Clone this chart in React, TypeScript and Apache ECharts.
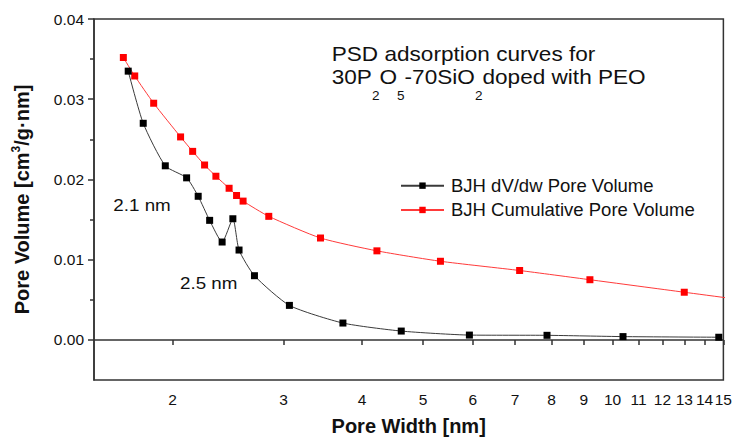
import React, { useEffect, useRef } from "react";
import * as echarts from "echarts";

const FONT = "'Liberation Sans', Arial, sans-serif";

// Pore width (nm) and values
const dvdwWidth = [1.70, 1.796, 1.947, 2.105, 2.196, 2.29, 2.397, 2.493, 2.55, 2.698, 3.066, 3.729, 4.616, 5.923, 7.868, 10.39, 14.75];
const dvdwVolume = [0.0335, 0.0270, 0.0217, 0.0202, 0.0179, 0.0149, 0.0122, 0.0151, 0.0112, 0.0080, 0.0043, 0.0021, 0.0011, 0.0006, 0.00057, 0.00041, 0.00033];

const cumWidth = [1.67, 1.741, 1.866, 2.059, 2.152, 2.248, 2.343, 2.459, 2.527, 2.588, 2.843, 3.435, 4.223, 5.328, 7.118, 9.205, 13.0, 18.3];
const cumVolume = [0.0352, 0.0329, 0.0295, 0.0253, 0.0235, 0.0218, 0.0204, 0.0189, 0.0180, 0.0173, 0.0154, 0.0127, 0.0111, 0.0098, 0.00865, 0.0075, 0.00594, 0.0044];

const xTicks = [2, 3, 4, 5, 6, 7, 8, 9, 10, 11, 12, 13, 14, 15];
const yTicks = [0, 0.01, 0.02, 0.03, 0.04];
const yMinorTicks = [0.005, 0.015, 0.025, 0.035];

const seriesNames = ["BJH dV/dw Pore Volume", "BJH Cumulative Pore Volume"];

export default function App() {
  const ref = useRef<HTMLDivElement>(null);
  useEffect(() => {
    if (!ref.current) return;
    const chart = echarts.init(ref.current, null, { renderer: "svg" });
    const axisColor = "#333";
    chart.setOption({
      animation: false,
      backgroundColor: "#fff",
      textStyle: { fontFamily: FONT },
      grid: {
        left: 94,
        top: 19,
        right: 9.5,
        bottom: 57,
        show: true,
        borderColor: axisColor,
        borderWidth: 1.5,
        containLabel: false,
      },
      legend: {
        orient: "vertical",
        left: 400,
        top: 173.5,
        padding: 0,
        itemGap: 0,
        itemWidth: 43,
        itemHeight: 8,
        textStyle: { fontSize: 18.5, color: "#111", fontFamily: FONT, lineHeight: 24.3, padding: [0, 0, 0, 2] },
        data: seriesNames,
      },
      xAxis: {
        type: "log",
        logBase: 10,
        min: 1.5,
        max: 15,
        name: "Pore Width [nm]",
        nameLocation: "middle",
        nameGap: 36,
        nameTextStyle: { fontSize: 20, fontWeight: "bold", color: "#111", fontFamily: FONT },
        axisLine: { show: true, lineStyle: { color: axisColor, width: 1.5 } },
        axisTick: { show: true, inside: false, length: 5, customValues: xTicks, lineStyle: { color: axisColor, width: 1.5 } },
        axisLabel: {
          customValues: xTicks,
          margin: 11,
          fontSize: 15.5,
          color: "#111",
          fontFamily: FONT,
          formatter: (v: number) => String(Math.round(v)),
        },
        splitLine: { show: false },
        minorTick: { show: false },
      },
      yAxis: [
        {
          type: "value",
          min: -0.005,
          max: 0.04,
          name: "Pore Volume [cm{sup|3}/g·nm]",
          nameLocation: "middle",
          nameGap: 60,
          nameTextStyle: {
            fontSize: 20,
            fontWeight: "bold",
            color: "#111",
            fontFamily: FONT,
            lineHeight: 24,
            rich: {
              sup: { fontSize: 12, fontWeight: "bold", color: "#111", fontFamily: FONT, lineHeight: 12, verticalAlign: "top" },
            },
          },
          axisLine: { show: true, lineStyle: { color: axisColor, width: 1.5 } },
          axisTick: { show: true, inside: false, length: 6, customValues: yTicks, lineStyle: { color: axisColor, width: 1.5 } },
          axisLabel: {
            customValues: yTicks,
            margin: 10,
            fontSize: 15.5,
            color: "#111",
            fontFamily: FONT,
            formatter: (v: number) => v.toFixed(2),
          },
          splitLine: { show: false },
        },
        {
          type: "value",
          min: -0.005,
          max: 0.04,
          position: "left",
          offset: 0,
          axisLine: { show: false },
          axisTick: { show: true, inside: false, length: 4, customValues: yMinorTicks, lineStyle: { color: axisColor, width: 1.5 } },
          axisLabel: { show: false },
          splitLine: { show: false },
        },
      ],
      graphic: [
        {
          type: "text",
          x: 331.7,
          y: 54.5,
          scaleX: 1.13,
          style: { text: "PSD adsorption curves for", fontSize: 20, fontFamily: FONT, fill: "#111", align: "left", verticalAlign: "middle" },
        },
        {
          type: "text",
          x: 331.7,
          y: 52.2,
          scaleX: 1.13,
          style: {
            text: "30P{sub|2}O{sub|5}-70SiO{sub|2}doped with PEO",
            fontSize: 20,
            fontFamily: FONT,
            fill: "#111",
            lineHeight: 50,
            align: "left",
            verticalAlign: "top",
            rich: {
              sub: { fontSize: 12, fontFamily: FONT, fill: "#111", lineHeight: 12, verticalAlign: "bottom" },
            },
          },
        },
        {
          type: "text",
          x: 113.3,
          y: 205.8,
          scaleX: 1.14,
          style: { text: "2.1 nm", fontSize: 16.5, fontFamily: FONT, fill: "#111", align: "left", verticalAlign: "middle" },
        },
        {
          type: "text",
          x: 180,
          y: 283.8,
          scaleX: 1.14,
          style: { text: "2.5 nm", fontSize: 16.5, fontFamily: FONT, fill: "#111", align: "left", verticalAlign: "middle" },
        },
      ],
      series: [
        {
          name: seriesNames[0],
          type: "line",
          data: dvdwWidth.map((w, i) => [w, dvdwVolume[i]]),
          symbol: "rect",
          symbolSize: 7,
          smooth: 0.2,
          itemStyle: { color: "#000" },
          lineStyle: { color: "#3a3a3a", width: 1 },
          clip: true,
          z: 3,
        },
        {
          name: seriesNames[1],
          type: "line",
          data: cumWidth.map((w, i) => [w, cumVolume[i]]),
          symbol: "rect",
          symbolSize: 7,
          smooth: 0.2,
          itemStyle: { color: "#ff0000" },
          lineStyle: { color: "#ff3a3a", width: 1 },
          clip: true,
          z: 2,
        },
      ],
    });
    return () => chart.dispose();
  }, []);
  return <div ref={ref} style={{ width: 735, height: 441, position: "fixed", left: 0, top: 0 }} />;
}
